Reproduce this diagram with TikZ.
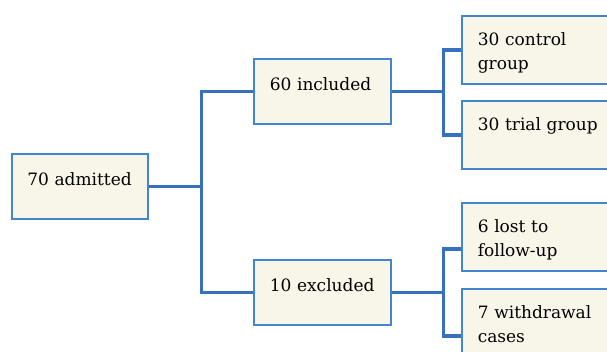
\documentclass[tikz,border=0pt]{standalone}
\usepackage{fontspec}
\setmainfont{DejaVu Serif}
\usepackage{xcolor}
\usepackage{tikz}

\definecolor{boxfill}{RGB}{248,245,233}
\definecolor{boxline}{RGB}{66,133,204}
\definecolor{linkblue}{RGB}{54,112,190}

\begin{document}
\begin{tikzpicture}[x=1pt,y=-1pt,
        box/.style={draw=boxline,line width=1.6pt,fill=boxfill,anchor=north west,
            inner xsep=16pt,inner ysep=0pt,align=left,text=black,
            font=\fontsize{17}{24}\selectfont},
        leftbox/.style={box,text width=105pt,text height=32pt,text depth=33pt},
        rightbox/.style={box,text width=140pt,text height=30pt,text depth=38pt},
        link/.style={draw=linkblue,line width=3.4pt}]
        \useasboundingbox (0,0) rectangle (607,351);
        \clip (0,0) rectangle (607,351);

        \node[leftbox,inner xsep=15.5pt] (admitted) at (11,153) {70 admitted};
        \node[leftbox] (included) at (253,58) {60 included};
        \node[leftbox] (excluded) at (253,259) {10 excluded};

        \node[rightbox] (control) at (461,15) {30 control\\group};
        \node[rightbox] (trial) at (461,100) {30 trial group};
        \node[rightbox] (lost) at (461,202) {6 lost to\\follow-up};
        \node[rightbox] (withdrawal) at (461,288) {7 withdrawal\\cases};

        % first split
        \draw[link] (admitted.east) -- ++(53,0) coordinate (fork);
        \draw[link] (included.west) -| (fork) |- (excluded.west);

        % second splits
        \draw[link] (included.east) -- ++(52,0) coordinate (forkin);
        \draw[link] (control.west) -| (forkin) |- (trial.west);
        \draw[link] (excluded.east) -- ++(52,0) coordinate (forkex);
        \draw[link] ([yshift=-12pt]lost.west) -| (forkex) |- ([yshift=-13pt]withdrawal.west);
    \end{tikzpicture}
\end{document}
